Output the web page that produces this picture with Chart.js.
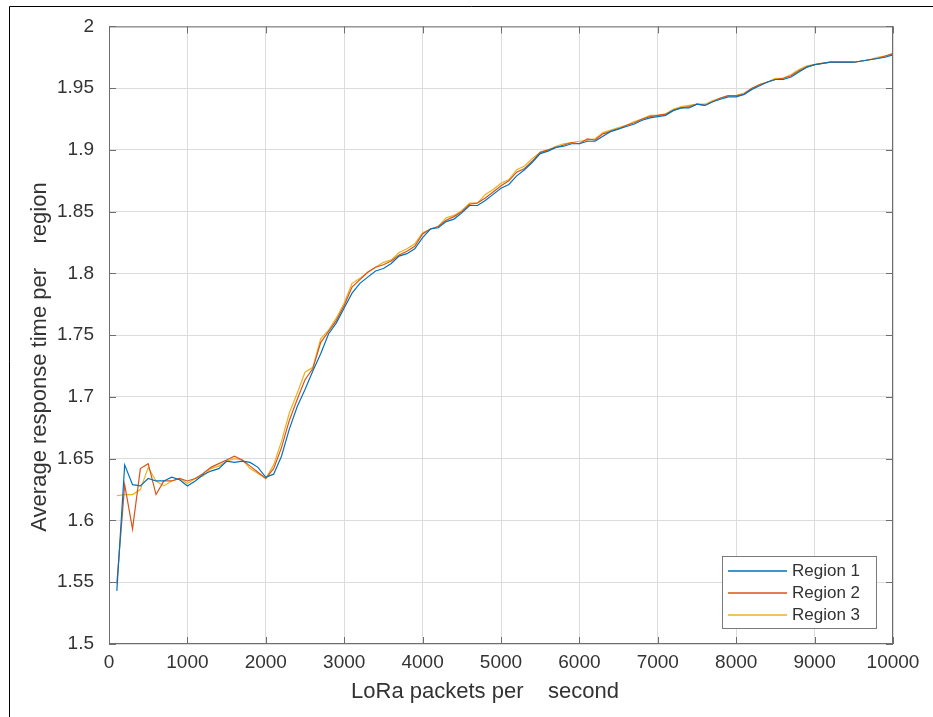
<!DOCTYPE html>
<html>
<head>
<meta charset="utf-8">
<title>Average response time per region</title>
<script src="https://cdn.jsdelivr.net/npm/chart.js@4.4.1/dist/chart.umd.min.js"></script>
<style>
    html, body { margin: 0; padding: 0; background: #fff; }
    canvas { display: block; }
</style>
</head>
<body>
<canvas id="chart" width="933" height="717"></canvas>
<script>
// Packets per second (x values)
const packetRates = [
    100, 200, 300, 400, 500, 600, 700, 800, 900, 1000,
    1100, 1200, 1300, 1400, 1500, 1600, 1700, 1800, 1900, 2000,
    2100, 2200, 2300, 2400, 2500, 2600, 2700, 2800, 2900, 3000,
    3100, 3200, 3300, 3400, 3500, 3600, 3700, 3800, 3900, 4000,
    4100, 4200, 4300, 4400, 4500, 4600, 4700, 4800, 4900, 5000,
    5100, 5200, 5300, 5400, 5500, 5600, 5700, 5800, 5900, 6000,
    6100, 6200, 6300, 6400, 6500, 6600, 6700, 6800, 6900, 7000,
    7100, 7200, 7300, 7400, 7500, 7600, 7700, 7800, 7900, 8000,
    8100, 8200, 8300, 8400, 8500, 8600, 8700, 8800, 8900, 9000,
    9100, 9200, 9300, 9400, 9500, 9600, 9700, 9800, 9900, 10000
];

const region1 = [
    1.543, 1.645, 1.629, 1.628, 1.634, 1.632, 1.632, 1.635, 1.633, 1.628,
    1.632, 1.637, 1.640, 1.642, 1.648, 1.647, 1.648, 1.647, 1.643, 1.635,
    1.6375, 1.652, 1.674, 1.692, 1.706, 1.721, 1.735, 1.751, 1.760, 1.772,
    1.784, 1.792, 1.797, 1.802, 1.804, 1.808, 1.814, 1.816, 1.820, 1.829,
    1.836, 1.837, 1.842, 1.844, 1.849, 1.855, 1.855, 1.859, 1.864, 1.869,
    1.872, 1.879, 1.884, 1.890, 1.897, 1.899, 1.902, 1.903, 1.905, 1.905,
    1.907, 1.907, 1.911, 1.915, 1.917, 1.919, 1.921, 1.924, 1.926, 1.927,
    1.928, 1.932, 1.934, 1.934, 1.937, 1.936, 1.939, 1.941, 1.943, 1.943,
    1.945, 1.949, 1.952, 1.955, 1.957, 1.957, 1.959, 1.963, 1.967, 1.969,
    1.970, 1.971, 1.971, 1.971, 1.971, 1.972, 1.973, 1.974, 1.975, 1.977
];

const region2 = [
    1.549, 1.629, 1.593, 1.642, 1.646, 1.621, 1.632, 1.632, 1.634, 1.632,
    1.634, 1.638, 1.643, 1.646, 1.649, 1.652, 1.649, 1.644, 1.639, 1.634,
    1.642, 1.659, 1.681, 1.698, 1.714, 1.723, 1.744, 1.753, 1.762, 1.774,
    1.789, 1.795, 1.801, 1.805, 1.807, 1.810, 1.815, 1.818, 1.822, 1.832,
    1.836, 1.838, 1.843, 1.846, 1.850, 1.856, 1.857, 1.861, 1.866, 1.871,
    1.875, 1.882, 1.885, 1.891, 1.898, 1.900, 1.902, 1.904, 1.906, 1.905,
    1.909, 1.908, 1.913, 1.915, 1.917, 1.920, 1.922, 1.925, 1.927, 1.928,
    1.929, 1.932, 1.934, 1.935, 1.937, 1.936, 1.939, 1.942, 1.944, 1.944,
    1.945, 1.950, 1.953, 1.955, 1.957, 1.958, 1.960, 1.964, 1.967, 1.969,
    1.970, 1.971, 1.971, 1.971, 1.971, 1.972, 1.973, 1.974, 1.976, 1.978
];

const region3 = [
    1.620, 1.621, 1.621, 1.625, 1.643, 1.632, 1.628, 1.632, 1.634, 1.630,
    1.634, 1.636, 1.642, 1.644, 1.648, 1.650, 1.649, 1.642, 1.638, 1.634,
    1.645, 1.664, 1.687, 1.703, 1.720, 1.724, 1.747, 1.754, 1.764, 1.776,
    1.792, 1.796, 1.801, 1.805, 1.809, 1.811, 1.817, 1.820, 1.824, 1.833,
    1.836, 1.838, 1.845, 1.847, 1.851, 1.857, 1.857, 1.864, 1.868, 1.873,
    1.876, 1.884, 1.887, 1.893, 1.898, 1.900, 1.903, 1.905, 1.906, 1.907,
    1.908, 1.909, 1.914, 1.916, 1.918, 1.920, 1.923, 1.925, 1.928, 1.928,
    1.929, 1.933, 1.935, 1.936, 1.937, 1.937, 1.940, 1.942, 1.944, 1.944,
    1.946, 1.950, 1.953, 1.955, 1.958, 1.958, 1.961, 1.965, 1.968, 1.969,
    1.970, 1.971, 1.971, 1.971, 1.971, 1.972, 1.973, 1.975, 1.976, 1.978
];

const seriesNames = ['Region 1', 'Region 2', 'Region 3'];
const seriesColors = ['#0072BD', '#D95319', '#EDB120'];

const xTitle = 'LoRa packets per    second';
const yTitle = 'Average response time per    region';

const FONT = '"Liberation Sans", Arial, Helvetica, sans-serif';
const AXIS_COLOR = '#6e6e6e';
const TEXT_COLOR = '#333333';

function toPoints(values) {
    return packetRates.map((x, i) => ({ x: x, y: values[i] }));
}

// Box, inward ticks, axis titles, legend and the outer frame
const decorations = {
    id: 'decorations',
    afterDraw(chart) {
        const ctx = chart.ctx;
        const area = chart.chartArea;
        const xs = chart.scales.x;
        const ys = chart.scales.y;

        ctx.save();

        // axes box
        ctx.strokeStyle = AXIS_COLOR;
        ctx.lineWidth = 1;
        ctx.strokeRect(area.left + 0.5, area.top + 0.5, area.right - area.left - 1, area.bottom - area.top - 1);

        // inward tick marks on all four sides
        ctx.beginPath();
        xs.ticks.forEach(t => {
            const px = Math.round(xs.getPixelForValue(t.value)) + 0.5;
            ctx.moveTo(px, area.bottom);
            ctx.lineTo(px, area.bottom - 7);
            ctx.moveTo(px, area.top);
            ctx.lineTo(px, area.top + 7);
        });
        ys.ticks.forEach(t => {
            const py = Math.round(ys.getPixelForValue(t.value)) + 0.5;
            ctx.moveTo(area.left, py);
            ctx.lineTo(area.left + 7, py);
            ctx.moveTo(area.right, py);
            ctx.lineTo(area.right - 7, py);
        });
        ctx.stroke();

        // axis titles
        ctx.fillStyle = TEXT_COLOR;
        ctx.font = '22px ' + FONT;
        ctx.textAlign = 'center';
        ctx.textBaseline = 'middle';
        ctx.fillText(xTitle, 485, 692);

        ctx.save();
        ctx.translate(40, 357);
        ctx.rotate(-Math.PI / 2);
        ctx.fillText(yTitle, 0, 0);
        ctx.restore();

        // legend
        const lx = 722, ly = 556, lw = 155, lh = 73;
        ctx.fillStyle = '#ffffff';
        ctx.fillRect(lx, ly, lw, lh);
        ctx.strokeStyle = '#7a7a7a';
        ctx.lineWidth = 1;
        ctx.strokeRect(lx + 0.5, ly + 0.5, lw - 1, lh - 1);
        ctx.font = '17px ' + FONT;
        ctx.textAlign = 'left';
        chart.data.datasets.forEach((ds, i) => {
            const rowY = ly + 15 + i * 22;
            ctx.strokeStyle = seriesColors[i];
            ctx.lineWidth = 1.5;
            ctx.beginPath();
            ctx.moveTo(lx + 6, rowY);
            ctx.lineTo(lx + 65, rowY);
            ctx.stroke();
            ctx.fillStyle = TEXT_COLOR;
            ctx.fillText(ds.label, lx + 70, rowY);
        });

        // outer frame of the figure
        ctx.strokeStyle = '#000000';
        ctx.lineWidth = 1;
        ctx.beginPath();
        ctx.moveTo(9.5, 717);
        ctx.lineTo(9.5, 6.5);
        ctx.lineTo(933, 6.5);
        ctx.stroke();

        ctx.restore();
    }
};

document.addEventListener('DOMContentLoaded', () => {
    const ctx = document.getElementById('chart').getContext('2d');

    new Chart(ctx, {
        type: 'line',
        data: {
            datasets: [region1, region2, region3].map((values, i) => ({
                label: seriesNames[i],
                data: toPoints(values),
                borderColor: seriesColors[i],
                backgroundColor: seriesColors[i],
                borderWidth: 1.2,
                pointRadius: 0,
                tension: 0,
                fill: false
            }))
        },
        options: {
            responsive: false,
            animation: false,
            devicePixelRatio: 1,
            layout: {
                padding: { left: 0, top: 26, right: 40, bottom: 0 }
            },
            plugins: {
                legend: { display: false },
                tooltip: { enabled: false }
            },
            scales: {
                x: {
                    type: 'linear',
                    min: 0,
                    max: 10000,
                    ticks: {
                        stepSize: 1000,
                        color: TEXT_COLOR,
                        font: { family: FONT, size: 19 },
                        padding: 7,
                        maxRotation: 0,
                        callback: v => String(v)
                    },
                    grid: { color: '#dcdcdc', lineWidth: 1, drawTicks: false },
                    border: { display: false },
                    afterFit: scale => { scale.height = 73; }
                },
                y: {
                    min: 1.5,
                    max: 2,
                    ticks: {
                        stepSize: 0.05,
                        color: TEXT_COLOR,
                        font: { family: FONT, size: 19 },
                        padding: 15,
                        callback: v => String(Number(v.toFixed(2)))
                    },
                    grid: { color: '#dcdcdc', lineWidth: 1, drawTicks: false },
                    border: { display: false },
                    afterFit: scale => { scale.height = undefined; scale.width = 109; }
                }
            }
        },
        plugins: [decorations]
    });
});
</script>
</body>
</html>
